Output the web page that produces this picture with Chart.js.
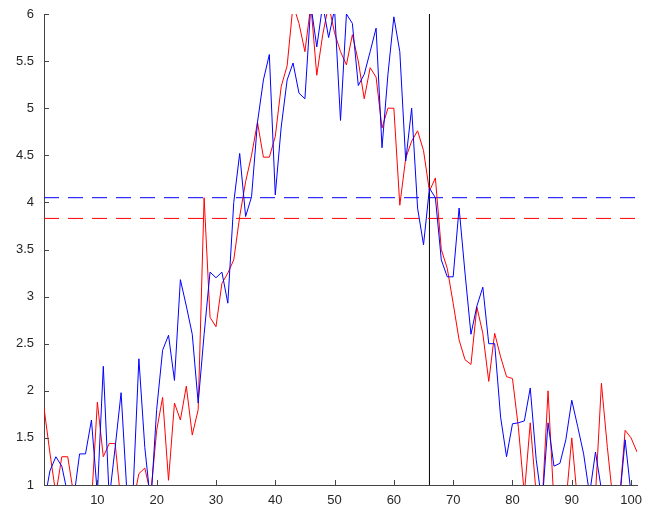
<!DOCTYPE html>
<html>
<head>
<meta charset="utf-8">
<script src="https://cdn.jsdelivr.net/npm/chart.js@4/dist/chart.umd.min.js"></script>
<style>
  html, body { margin: 0; padding: 0; background: #fff; }
  #wrap { width: 649px; height: 514px; }
</style>
</head>
<body>
<div id="wrap"><canvas id="line-chart"></canvas></div>
<script>
// samples 1..101
var blueValues = [0.8, 1.15, 1.3, 1.2, 0.9, 0.85, 1.33, 1.33, 1.69, 0.9,
    2.26, 0.85, 1.4, 1.98, 0.9, 0.9, 2.34, 1.4, 0.8, 1.8,
    2.43, 2.59, 2.11, 3.18, 2.9, 2.6, 1.87, 2.6, 3.26, 3.2,
    3.26, 2.93, 4.0, 4.52, 3.85, 4.06, 4.85, 5.3, 5.57, 4.08,
    4.8, 5.3, 5.48, 5.16, 5.1, 6.1, 5.65, 6.1, 5.75, 6.05,
    4.87, 6.0, 5.9, 5.24, 5.36, 5.6, 5.85, 4.58, 5.36, 5.97,
    5.6, 4.44, 5.0, 3.94, 3.55, 4.15, 4.05, 3.39, 3.21, 3.21,
    3.94, 3.25, 2.6, 2.9, 3.1, 2.5, 2.5, 1.72, 1.3, 1.65,
    1.66, 1.68, 2.03, 1.27, 0.8, 1.66, 1.2, 1.23, 1.48, 1.9,
    1.62, 1.33, 0.9, 1.35, 0.95, 0.7, 0.7, 0.8, 1.48, 0.9, 0.8];
var redValues = [1.82, 1.34, 0.9, 1.3, 1.3, 0.9, 0.8, 0.8, 0.8, 1.88,
    1.3, 1.44, 1.44, 0.8, 0.8, 0.8, 1.12, 1.18, 0.9, 1.58,
    1.93, 1.05, 1.87, 1.69, 2.05, 1.53, 1.8, 4.05, 2.78, 2.68,
    3.14, 3.25, 3.39, 3.85, 4.22, 4.5, 4.85, 4.48, 4.48, 4.7,
    5.23, 5.45, 6.1, 5.9, 5.6, 6.1, 5.35, 5.78, 6.1, 5.8,
    5.6, 5.46, 5.78, 5.5, 5.1, 5.43, 5.33, 4.79, 5.0, 5.0,
    3.97, 4.47, 4.65, 4.76, 4.55, 4.12, 4.26, 3.5, 3.3, 2.93,
    2.54, 2.33, 2.28, 2.89, 2.61, 2.1, 2.61, 2.36, 2.15, 2.13,
    1.61, 0.9, 1.66, 0.9, 0.8, 2.0, 0.8, 0.8, 0.8, 1.5,
    0.8, 0.8, 0.8, 0.9, 2.08, 1.4, 0.8, 0.8, 1.58, 1.5, 1.35];
var blueMean = 4.05;
var redMean = 3.83;
var markerX = 66;
var xTicks = [10, 20, 30, 40, 50, 60, 70, 80, 90, 100];
var yTicks = [1, 1.5, 2, 2.5, 3, 3.5, 4, 4.5, 5, 5.5, 6];

function pts(vals) {
    return vals.map(function(v, i) { return { x: i + 1, y: v }; });
}

var inwardTicks = {
    id: "inwardTicks",
    afterDraw: function(chart) {
        var ctx = chart.ctx, ca = chart.chartArea,
            xs = chart.scales.x, ys = chart.scales.y;
        ctx.save();
        ctx.strokeStyle = "#444";
        ctx.lineWidth = 1;
        ctx.beginPath();
        xTicks.forEach(function(t) {
            var px = Math.round(xs.getPixelForValue(t)) + 0.5;
            ctx.moveTo(px, ca.bottom);
            ctx.lineTo(px, ca.bottom - 5);
        });
        yTicks.forEach(function(t) {
            var py = Math.round(ys.getPixelForValue(t)) + 0.5;
            ctx.moveTo(ca.left, py);
            ctx.lineTo(ca.left + 5, py);
        });
        ctx.stroke();
        ctx.restore();
    }
};

var a = document.getElementById("line-chart"),
    tickFont = { family: "'Liberation Sans', Arial, sans-serif", size: 13 },
    line = function(data, color, dash) {
        return { data: data, borderColor: color, borderWidth: 1, borderDash: dash || [],
            pointRadius: 0, tension: 0, fill: false, clip: 0 };
    },
    c = {
        datasets: [
            line(pts(blueValues), "#0000ff"),
            line(pts(redValues), "#ff0000"),
            line([{ x: 1, y: blueMean }, { x: 101, y: blueMean }], "#0000ff", [15, 9]),
            line([{ x: 1, y: redMean }, { x: 101, y: redMean }], "#ff0000", [15, 9]),
            line([{ x: markerX, y: 1 }, { x: markerX, y: 6 }], "#000000")
        ]
    },
    b = {
        responsive: true,
        maintainAspectRatio: false,
        animation: false,
        layout: { padding: { top: 14, right: 12, left: 0, bottom: 0 } },
        plugins: { legend: { display: false }, tooltip: { enabled: false } },
        scales: {
            x: {
                type: "linear", min: 1, max: 101,
                grid: { display: false, drawTicks: false },
                border: { display: true, color: "#444" },
                afterBuildTicks: function(s) { s.ticks = xTicks.map(function(v) { return { value: v }; }); },
                afterFit: function(s) { s.height = 29; s.paddingLeft = 0; s.paddingRight = 0; },
                ticks: { font: tickFont, color: "#262626", padding: 8, maxRotation: 0,
                    callback: function(v) { return String(v); } }
            },
            y: {
                type: "linear", min: 1, max: 6,
                grid: { display: false, drawTicks: false },
                border: { display: true, color: "#444" },
                afterBuildTicks: function(s) { s.ticks = yTicks.map(function(v) { return { value: v }; }); },
                afterFit: function(s) { s.width = 44; s.paddingTop = 0; s.paddingBottom = 0; },
                ticks: { font: tickFont, color: "#262626", padding: 10,
                    callback: function(v) { return String(v); } }
            }
        }
    };
new Chart(a, { type: "line", data: c, options: b, plugins: [inwardTicks] });
</script>
</body>
</html>
